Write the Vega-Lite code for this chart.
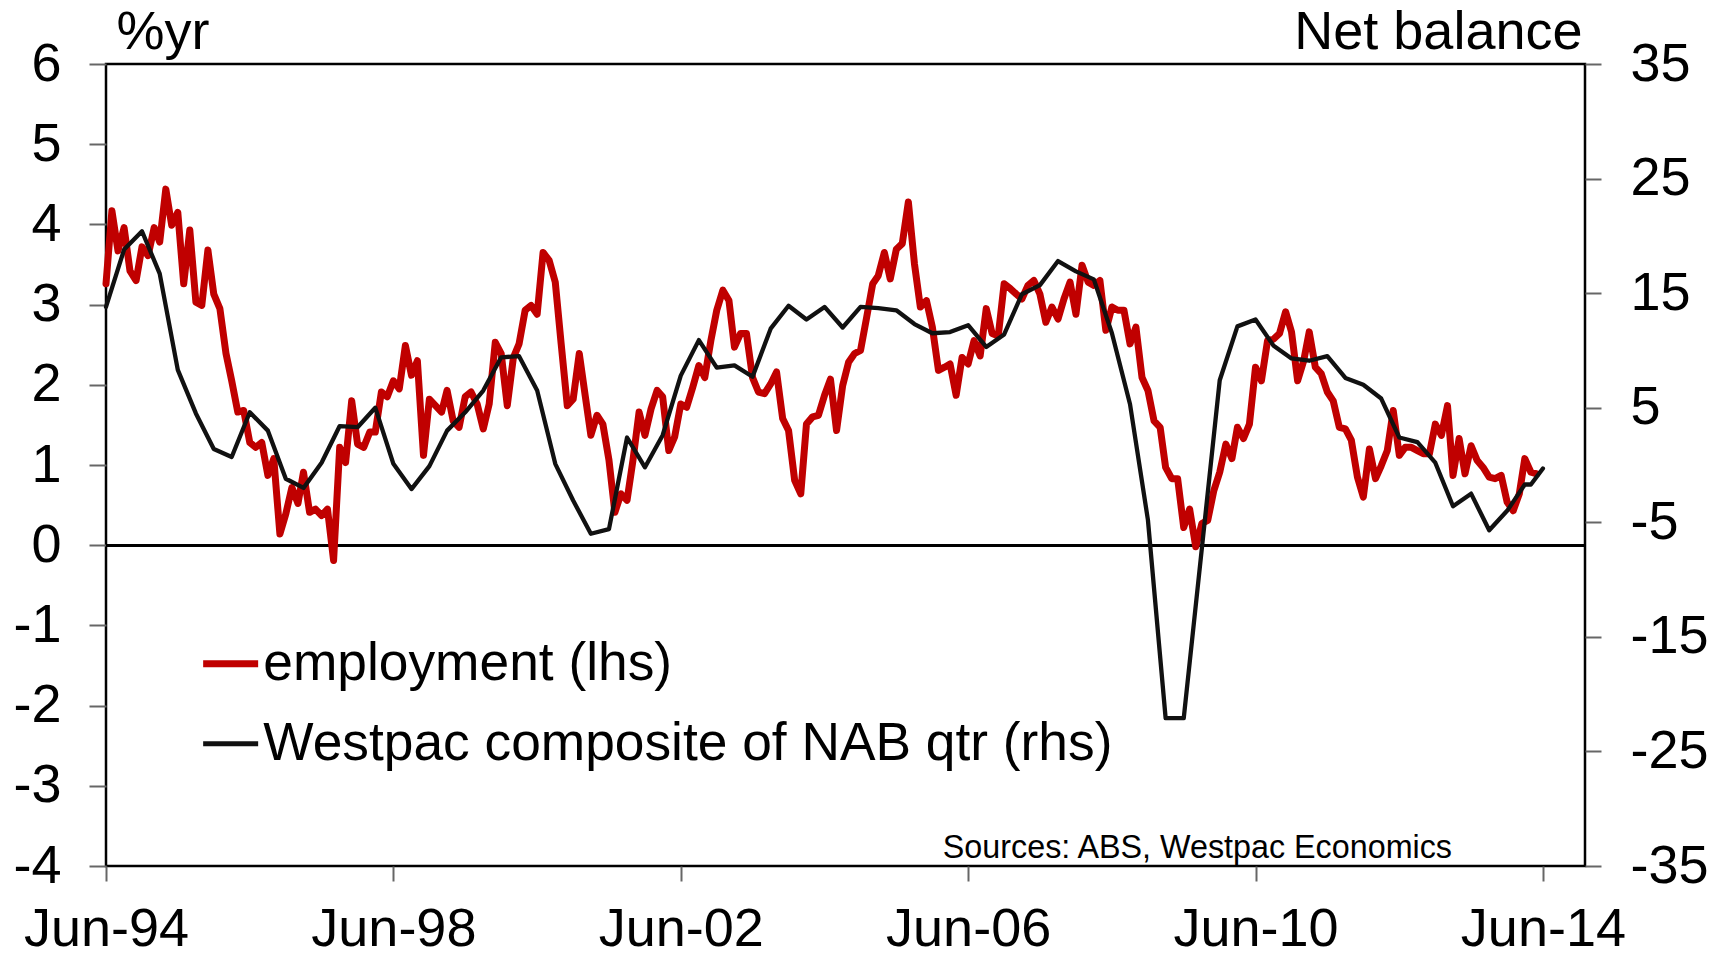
{
  "$schema": "https://vega.github.io/schema/vega-lite/v6.json",
  "width": 1479,
  "height": 802,
  "autosize": {"type": "none"},
  "padding": {"left": 106, "top": 64, "right": 143, "bottom": 87},
  "background": "white",
  "config": {
    "font": "Liberation Sans",
    "view": {"stroke": "#000000", "strokeWidth": 2.5},
    "axis": {"grid": false, "labelFont": "Liberation Sans", "labelFontSize": 54, "labelColor": "#000000", "titleFont": "Liberation Sans", "titleFontSize": 54, "titleFontWeight": "normal", "titleColor": "#000000", "tickColor": "#666666", "tickWidth": 2, "domain": false},
    "legend": {"labelFont": "Liberation Sans"}
  },
  "datasets": {
    "emp": [
      {"d": "1994-06-01", "v": 3.26}, {"d": "1994-07-01", "v": 4.17}, {"d": "1994-08-01", "v": 3.67}, {"d": "1994-09-01", "v": 3.96}, {"d": "1994-10-01", "v": 3.42}, {"d": "1994-11-01", "v": 3.30}, {"d": "1994-12-01", "v": 3.72},
      {"d": "1995-01-01", "v": 3.61}, {"d": "1995-02-01", "v": 3.96}, {"d": "1995-03-01", "v": 3.78}, {"d": "1995-04-01", "v": 4.44}, {"d": "1995-05-01", "v": 3.99}, {"d": "1995-06-01", "v": 4.15}, {"d": "1995-07-01", "v": 3.26}, {"d": "1995-08-01", "v": 3.93}, {"d": "1995-09-01", "v": 3.03}, {"d": "1995-10-01", "v": 2.99}, {"d": "1995-11-01", "v": 3.68}, {"d": "1995-12-01", "v": 3.13},
      {"d": "1996-01-01", "v": 2.95}, {"d": "1996-02-01", "v": 2.39}, {"d": "1996-03-01", "v": 2.05}, {"d": "1996-04-01", "v": 1.66}, {"d": "1996-05-01", "v": 1.68}, {"d": "1996-06-01", "v": 1.28}, {"d": "1996-07-01", "v": 1.22}, {"d": "1996-08-01", "v": 1.28}, {"d": "1996-09-01", "v": 0.87}, {"d": "1996-10-01", "v": 1.08}, {"d": "1996-11-01", "v": 0.14}, {"d": "1996-12-01", "v": 0.39},
      {"d": "1997-01-01", "v": 0.72}, {"d": "1997-02-01", "v": 0.52}, {"d": "1997-03-01", "v": 0.91}, {"d": "1997-04-01", "v": 0.41}, {"d": "1997-05-01", "v": 0.45}, {"d": "1997-06-01", "v": 0.37}, {"d": "1997-07-01", "v": 0.45}, {"d": "1997-08-01", "v": -0.19}, {"d": "1997-09-01", "v": 1.22}, {"d": "1997-10-01", "v": 1.03}, {"d": "1997-11-01", "v": 1.80}, {"d": "1997-12-01", "v": 1.26},
      {"d": "1998-01-01", "v": 1.22}, {"d": "1998-02-01", "v": 1.41}, {"d": "1998-03-01", "v": 1.41}, {"d": "1998-04-01", "v": 1.91}, {"d": "1998-05-01", "v": 1.85}, {"d": "1998-06-01", "v": 2.05}, {"d": "1998-07-01", "v": 1.95}, {"d": "1998-08-01", "v": 2.49}, {"d": "1998-09-01", "v": 2.12}, {"d": "1998-10-01", "v": 2.30}, {"d": "1998-11-01", "v": 1.12}, {"d": "1998-12-01", "v": 1.82},
      {"d": "1999-01-01", "v": 1.74}, {"d": "1999-02-01", "v": 1.66}, {"d": "1999-03-01", "v": 1.93}, {"d": "1999-04-01", "v": 1.55}, {"d": "1999-05-01", "v": 1.47}, {"d": "1999-06-01", "v": 1.85}, {"d": "1999-07-01", "v": 1.91}, {"d": "1999-08-01", "v": 1.76}, {"d": "1999-09-01", "v": 1.45}, {"d": "1999-10-01", "v": 1.76}, {"d": "1999-11-01", "v": 2.53}, {"d": "1999-12-01", "v": 2.39},
      {"d": "2000-01-01", "v": 1.74}, {"d": "2000-02-01", "v": 2.34}, {"d": "2000-03-01", "v": 2.51}, {"d": "2000-04-01", "v": 2.93}, {"d": "2000-05-01", "v": 2.99}, {"d": "2000-06-01", "v": 2.88}, {"d": "2000-07-01", "v": 3.65}, {"d": "2000-08-01", "v": 3.55}, {"d": "2000-09-01", "v": 3.28}, {"d": "2000-10-01", "v": 2.51}, {"d": "2000-11-01", "v": 1.74}, {"d": "2000-12-01", "v": 1.82},
      {"d": "2001-01-01", "v": 2.39}, {"d": "2001-02-01", "v": 1.85}, {"d": "2001-03-01", "v": 1.37}, {"d": "2001-04-01", "v": 1.62}, {"d": "2001-05-01", "v": 1.51}, {"d": "2001-06-01", "v": 1.06}, {"d": "2001-07-01", "v": 0.41}, {"d": "2001-08-01", "v": 0.64}, {"d": "2001-09-01", "v": 0.56}, {"d": "2001-10-01", "v": 1.06}, {"d": "2001-11-01", "v": 1.66}, {"d": "2001-12-01", "v": 1.37},
      {"d": "2002-01-01", "v": 1.70}, {"d": "2002-02-01", "v": 1.93}, {"d": "2002-03-01", "v": 1.85}, {"d": "2002-04-01", "v": 1.18}, {"d": "2002-05-01", "v": 1.35}, {"d": "2002-06-01", "v": 1.76}, {"d": "2002-07-01", "v": 1.72}, {"d": "2002-08-01", "v": 1.97}, {"d": "2002-09-01", "v": 2.24}, {"d": "2002-10-01", "v": 2.09}, {"d": "2002-11-01", "v": 2.55}, {"d": "2002-12-01", "v": 2.93},
      {"d": "2003-01-01", "v": 3.18}, {"d": "2003-02-01", "v": 3.05}, {"d": "2003-03-01", "v": 2.47}, {"d": "2003-04-01", "v": 2.64}, {"d": "2003-05-01", "v": 2.64}, {"d": "2003-06-01", "v": 2.09}, {"d": "2003-07-01", "v": 1.91}, {"d": "2003-08-01", "v": 1.89}, {"d": "2003-09-01", "v": 2.01}, {"d": "2003-10-01", "v": 2.16}, {"d": "2003-11-01", "v": 1.58}, {"d": "2003-12-01", "v": 1.43},
      {"d": "2004-01-01", "v": 0.81}, {"d": "2004-02-01", "v": 0.64}, {"d": "2004-03-01", "v": 1.51}, {"d": "2004-04-01", "v": 1.60}, {"d": "2004-05-01", "v": 1.62}, {"d": "2004-06-01", "v": 1.87}, {"d": "2004-07-01", "v": 2.07}, {"d": "2004-08-01", "v": 1.43}, {"d": "2004-09-01", "v": 1.99}, {"d": "2004-10-01", "v": 2.28}, {"d": "2004-11-01", "v": 2.39}, {"d": "2004-12-01", "v": 2.43},
      {"d": "2005-01-01", "v": 2.84}, {"d": "2005-02-01", "v": 3.26}, {"d": "2005-03-01", "v": 3.36}, {"d": "2005-04-01", "v": 3.65}, {"d": "2005-05-01", "v": 3.32}, {"d": "2005-06-01", "v": 3.69}, {"d": "2005-07-01", "v": 3.76}, {"d": "2005-08-01", "v": 4.28}, {"d": "2005-09-01", "v": 3.51}, {"d": "2005-10-01", "v": 2.97}, {"d": "2005-11-01", "v": 3.05}, {"d": "2005-12-01", "v": 2.72},
      {"d": "2006-01-01", "v": 2.18}, {"d": "2006-02-01", "v": 2.22}, {"d": "2006-03-01", "v": 2.26}, {"d": "2006-04-01", "v": 1.87}, {"d": "2006-05-01", "v": 2.34}, {"d": "2006-06-01", "v": 2.26}, {"d": "2006-07-01", "v": 2.55}, {"d": "2006-08-01", "v": 2.36}, {"d": "2006-09-01", "v": 2.95}, {"d": "2006-10-01", "v": 2.64}, {"d": "2006-11-01", "v": 2.61}, {"d": "2006-12-01", "v": 3.26},
      {"d": "2007-01-01", "v": 3.20}, {"d": "2007-02-01", "v": 3.13}, {"d": "2007-03-01", "v": 3.07}, {"d": "2007-04-01", "v": 3.24}, {"d": "2007-05-01", "v": 3.30}, {"d": "2007-06-01", "v": 3.13}, {"d": "2007-07-01", "v": 2.78}, {"d": "2007-08-01", "v": 2.97}, {"d": "2007-09-01", "v": 2.82}, {"d": "2007-10-01", "v": 3.07}, {"d": "2007-11-01", "v": 3.28}, {"d": "2007-12-01", "v": 2.88},
      {"d": "2008-01-01", "v": 3.49}, {"d": "2008-02-01", "v": 3.28}, {"d": "2008-03-01", "v": 3.24}, {"d": "2008-04-01", "v": 3.30}, {"d": "2008-05-01", "v": 2.68}, {"d": "2008-06-01", "v": 2.97}, {"d": "2008-07-01", "v": 2.93}, {"d": "2008-08-01", "v": 2.93}, {"d": "2008-09-01", "v": 2.51}, {"d": "2008-10-01", "v": 2.72}, {"d": "2008-11-01", "v": 2.09}, {"d": "2008-12-01", "v": 1.93},
      {"d": "2009-01-01", "v": 1.55}, {"d": "2009-02-01", "v": 1.47}, {"d": "2009-03-01", "v": 0.97}, {"d": "2009-04-01", "v": 0.83}, {"d": "2009-05-01", "v": 0.83}, {"d": "2009-06-01", "v": 0.22}, {"d": "2009-07-01", "v": 0.45}, {"d": "2009-08-01", "v": -0.02}, {"d": "2009-09-01", "v": 0.27}, {"d": "2009-10-01", "v": 0.31}, {"d": "2009-11-01", "v": 0.68}, {"d": "2009-12-01", "v": 0.91},
      {"d": "2010-01-01", "v": 1.26}, {"d": "2010-02-01", "v": 1.08}, {"d": "2010-03-01", "v": 1.47}, {"d": "2010-04-01", "v": 1.33}, {"d": "2010-05-01", "v": 1.51}, {"d": "2010-06-01", "v": 2.22}, {"d": "2010-07-01", "v": 2.05}, {"d": "2010-08-01", "v": 2.55}, {"d": "2010-09-01", "v": 2.57}, {"d": "2010-10-01", "v": 2.64}, {"d": "2010-11-01", "v": 2.91}, {"d": "2010-12-01", "v": 2.66},
      {"d": "2011-01-01", "v": 2.05}, {"d": "2011-02-01", "v": 2.30}, {"d": "2011-03-01", "v": 2.66}, {"d": "2011-04-01", "v": 2.22}, {"d": "2011-05-01", "v": 2.14}, {"d": "2011-06-01", "v": 1.91}, {"d": "2011-07-01", "v": 1.80}, {"d": "2011-08-01", "v": 1.47}, {"d": "2011-09-01", "v": 1.45}, {"d": "2011-10-01", "v": 1.31}, {"d": "2011-11-01", "v": 0.85}, {"d": "2011-12-01", "v": 0.60},
      {"d": "2012-01-01", "v": 1.20}, {"d": "2012-02-01", "v": 0.83}, {"d": "2012-03-01", "v": 0.99}, {"d": "2012-04-01", "v": 1.18}, {"d": "2012-05-01", "v": 1.68}, {"d": "2012-06-01", "v": 1.12}, {"d": "2012-07-01", "v": 1.22}, {"d": "2012-08-01", "v": 1.22}, {"d": "2012-09-01", "v": 1.18}, {"d": "2012-10-01", "v": 1.14}, {"d": "2012-11-01", "v": 1.14}, {"d": "2012-12-01", "v": 1.51},
      {"d": "2013-01-01", "v": 1.37}, {"d": "2013-02-01", "v": 1.74}, {"d": "2013-03-01", "v": 0.87}, {"d": "2013-04-01", "v": 1.33}, {"d": "2013-05-01", "v": 0.89}, {"d": "2013-06-01", "v": 1.24}, {"d": "2013-07-01", "v": 1.06}, {"d": "2013-08-01", "v": 0.97}, {"d": "2013-09-01", "v": 0.85}, {"d": "2013-10-01", "v": 0.83}, {"d": "2013-11-01", "v": 0.87}, {"d": "2013-12-01", "v": 0.54},
      {"d": "2014-01-01", "v": 0.43}, {"d": "2014-02-01", "v": 0.64}, {"d": "2014-03-01", "v": 1.08}, {"d": "2014-04-01", "v": 0.91}, {"d": "2014-05-01", "v": 0.89}
    ],
    "nab": [
      {"d": "1994-06-01", "v": 13.8}, {"d": "1994-09-01", "v": 18.8}, {"d": "1994-12-01", "v": 20.4},
      {"d": "1995-03-01", "v": 16.7}, {"d": "1995-06-01", "v": 8.3}, {"d": "1995-09-01", "v": 4.5}, {"d": "1995-12-01", "v": 1.4},
      {"d": "1996-03-01", "v": 0.7}, {"d": "1996-06-01", "v": 4.6}, {"d": "1996-09-01", "v": 3.0}, {"d": "1996-12-01", "v": -1.2},
      {"d": "1997-03-01", "v": -2.0}, {"d": "1997-06-01", "v": 0.2}, {"d": "1997-09-01", "v": 3.4}, {"d": "1997-12-01", "v": 3.3},
      {"d": "1998-03-01", "v": 5.0}, {"d": "1998-06-01", "v": 0.1}, {"d": "1998-09-01", "v": -2.1}, {"d": "1998-12-01", "v": -0.1},
      {"d": "1999-03-01", "v": 3.0}, {"d": "1999-06-01", "v": 4.6}, {"d": "1999-09-01", "v": 6.5}, {"d": "1999-12-01", "v": 9.4},
      {"d": "2000-03-01", "v": 9.5}, {"d": "2000-06-01", "v": 6.5}, {"d": "2000-09-01", "v": 0.1}, {"d": "2000-12-01", "v": -3.1},
      {"d": "2001-03-01", "v": -6.0}, {"d": "2001-06-01", "v": -5.6}, {"d": "2001-09-01", "v": 2.4}, {"d": "2001-12-01", "v": -0.2},
      {"d": "2002-03-01", "v": 2.6}, {"d": "2002-06-01", "v": 7.8}, {"d": "2002-09-01", "v": 10.9}, {"d": "2002-12-01", "v": 8.5},
      {"d": "2003-03-01", "v": 8.7}, {"d": "2003-06-01", "v": 7.7}, {"d": "2003-09-01", "v": 11.9}, {"d": "2003-12-01", "v": 13.9},
      {"d": "2004-03-01", "v": 12.7}, {"d": "2004-06-01", "v": 13.8}, {"d": "2004-09-01", "v": 12.0}, {"d": "2004-12-01", "v": 13.8},
      {"d": "2005-03-01", "v": 13.7}, {"d": "2005-06-01", "v": 13.5}, {"d": "2005-09-01", "v": 12.3}, {"d": "2005-12-01", "v": 11.5},
      {"d": "2006-03-01", "v": 11.6}, {"d": "2006-06-01", "v": 12.2}, {"d": "2006-09-01", "v": 10.3}, {"d": "2006-12-01", "v": 11.4},
      {"d": "2007-03-01", "v": 14.9}, {"d": "2007-06-01", "v": 15.7}, {"d": "2007-09-01", "v": 17.8}, {"d": "2007-12-01", "v": 16.9},
      {"d": "2008-03-01", "v": 16.2}, {"d": "2008-06-01", "v": 11.5}, {"d": "2008-09-01", "v": 5.3}, {"d": "2008-12-01", "v": -4.8},
      {"d": "2009-03-01", "v": -22.1}, {"d": "2009-06-01", "v": -22.1}, {"d": "2009-09-01", "v": -7.3}, {"d": "2009-12-01", "v": 7.4},
      {"d": "2010-03-01", "v": 12.1}, {"d": "2010-06-01", "v": 12.7}, {"d": "2010-09-01", "v": 10.4}, {"d": "2010-12-01", "v": 9.3},
      {"d": "2011-03-01", "v": 9.1}, {"d": "2011-06-01", "v": 9.5}, {"d": "2011-09-01", "v": 7.6}, {"d": "2011-12-01", "v": 7.0},
      {"d": "2012-03-01", "v": 5.8}, {"d": "2012-06-01", "v": 2.4}, {"d": "2012-09-01", "v": 2.0}, {"d": "2012-12-01", "v": 0.2},
      {"d": "2013-03-01", "v": -3.6}, {"d": "2013-06-01", "v": -2.5}, {"d": "2013-09-01", "v": -5.7}, {"d": "2013-12-01", "v": -4.0},
      {"d": "2014-03-01", "v": -1.7}, {"d": "2014-04-01", "v": -1.7}, {"d": "2014-06-01", "v": -0.3}
    ]
  },
  "layer": [
    {
      "data": {"name": "emp"},
      "layer": [
        {
          "mark": {"type": "rule", "color": "#000000", "strokeWidth": 2.5},
          "encoding": {"y": {"datum": 0, "type": "quantitative"}}
        },
        {
          "mark": {"type": "line", "strokeWidth": 7, "strokeJoin": "round", "strokeCap": "round"},
          "encoding": {
            "x": {
              "field": "d", "type": "temporal",
              "scale": {"type": "utc", "domain": [{"year": 1994, "month": 6, "date": 1, "utc": true}, {"year": 2015, "month": 1, "date": 1, "utc": true}]},
              "axis": {
                "title": null, "format": "%b-%y", "tickSize": 15, "labelPadding": 21, "labelFlush": false, "labelOverlap": false,
                "values": [
                  {"year": 1994, "month": 6, "date": 1, "utc": true},
                  {"year": 1998, "month": 6, "date": 1, "utc": true},
                  {"year": 2002, "month": 6, "date": 1, "utc": true},
                  {"year": 2006, "month": 6, "date": 1, "utc": true},
                  {"year": 2010, "month": 6, "date": 1, "utc": true},
                  {"year": 2014, "month": 6, "date": 1, "utc": true}
                ]
              }
            },
            "y": {
              "field": "v", "type": "quantitative",
              "scale": {"domain": [-4, 6], "nice": false, "zero": false},
              "axis": {
                "values": [-4, -3, -2, -1, 0, 1, 2, 3, 4, 5, 6], "labelExpr": "'' + datum.value", "tickSize": 17, "labelPadding": 28,
                "title": "%yr", "titleAngle": 0, "titleAlign": "left", "titleBaseline": "alphabetic", "titleX": 10, "titleY": -16
              }
            },
            "color": {
              "datum": "employment (lhs)",
              "scale": {"domain": ["employment (lhs)", "Westpac composite of NAB qtr (rhs)"], "range": ["#c00000", "#111111"]},
              "legend": {
                "orient": "none", "legendX": 98, "legendY": 573, "title": null, "padding": 0,
                "labelFontSize": 53.3, "labelColor": "#000000", "labelOffset": 6, "labelLimit": 1200,
                "symbolType": "stroke", "symbolSize": 3025, "symbolStrokeWidth": 6, "rowPadding": 26,
                "encode": {"symbols": {"update": {"strokeWidth": {"signal": "datum.value === 'employment (lhs)' ? 7 : 5"}}}}
              }
            }
          }
        }
      ]
    },
    {
      "data": {"name": "nab"},
      "mark": {"type": "line", "strokeWidth": 4.3, "strokeJoin": "round", "strokeCap": "round"},
      "encoding": {
        "x": {"field": "d", "type": "temporal"},
        "y": {
          "field": "v", "type": "quantitative",
          "scale": {"domain": [-35, 35], "nice": false, "zero": false},
          "axis": {
            "orient": "right", "values": [-35, -25, -15, -5, 5, 15, 25, 35], "labelExpr": "'' + datum.value", "tickSize": 16, "labelPadding": 29,
            "title": "Net balance", "titleAngle": 0, "titleAlign": "right", "titleBaseline": "alphabetic", "titleX": -3, "titleY": -16
          }
        },
        "color": {"datum": "Westpac composite of NAB qtr (rhs)"}
      }
    },
    {
      "data": {"values": [{"t": "Sources: ABS, Westpac Economics"}]},
      "mark": {"type": "text", "align": "right", "baseline": "alphabetic", "fontSize": 32.3, "font": "Liberation Sans", "color": "#000000"},
      "encoding": {
        "text": {"field": "t"},
        "x": {"datum": {"year": 2013, "month": 2, "date": 24, "utc": true}, "type": "temporal"},
        "y": {"datum": -3.9, "type": "quantitative", "scale": {"domain": [-4, 6], "nice": false, "zero": false}, "axis": null}
      }
    }
  ],
  "resolve": {"scale": {"y": "independent"}}
}
